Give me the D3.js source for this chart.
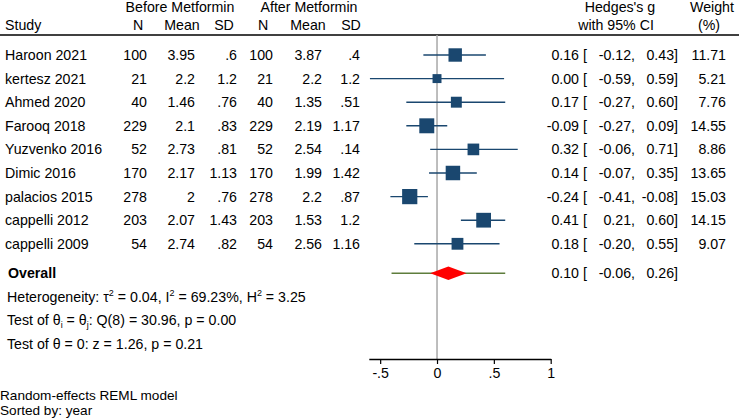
<!DOCTYPE html>
<html>
<head>
<meta charset="utf-8">
<script src="https://cdn.jsdelivr.net/npm/d3@7"></script>
<style>
  body { margin: 0; background: #fff; }
  text { font-family: "Liberation Sans", Arial, sans-serif; font-size: 14.2px; fill: #000; }
  text.nota { font-size: 13.6px; }
</style>
</head>
<body>
<div class="forest"></div>
<script>
// dati
var studi = ["Haroon 2021", "kertesz 2021", "Ahmed 2020", "Farooq 2018", "Yuzvenko 2016",
             "Dimic 2016", "palacios 2015", "cappelli 2012", "cappelli 2009"];
var nPrima = [100, 21, 40, 229, 52, 170, 278, 203, 54];
var mediaPrima = [3.95, 2.2, 1.46, 2.1, 2.73, 2.17, 2, 2.07, 2.74];
var sdPrima = [0.6, 1.2, 0.76, 0.83, 0.81, 1.13, 0.76, 1.43, 0.82];
var nDopo = [100, 21, 40, 229, 52, 170, 278, 203, 54];
var mediaDopo = [3.87, 2.2, 1.35, 2.19, 2.54, 1.99, 2.2, 1.53, 2.56];
var sdDopo = [0.4, 1.2, 0.51, 1.17, 0.14, 1.42, 0.87, 1.2, 1.16];
var effetto = [0.16, 0.00, 0.17, -0.09, 0.32, 0.14, -0.24, 0.41, 0.18];
var ciInf = [-0.12, -0.59, -0.27, -0.27, -0.06, -0.07, -0.41, 0.21, -0.20];
var ciSup = [0.43, 0.59, 0.60, 0.09, 0.71, 0.35, -0.08, 0.60, 0.55];
var pesi = [11.71, 5.21, 7.76, 14.55, 8.86, 13.65, 15.03, 14.15, 9.07];
var complessivo = [0.10, -0.06, 0.26];      // effetto, inf, sup
var predizione = [-0.40, 0.60];             // intervallo di predizione
var tickAsse = [-0.5, 0, 0.5, 1];

var w = 740, h = 420;

var svg = d3.select(".forest")
  .append("svg")
  .attr("width", w)
  .attr("height", h);

// scale
var x = d3.scaleLinear().domain([-0.6, 1]).range([368.8, 550.7]);
var riga = d3.scaleLinear().domain([0, 1]).range([55, 78.6]);
var lato = d3.scaleSqrt().domain([0, 15.03]).range([0, 15.2]);

var f2 = function (v) { return d3.format(".2f")(v).replace("\u2212", "-"); };
function stataNum(v) {
  return String(v).replace(/^0\./, ".").replace(/^-0\./, "-.");
}

// intestazioni
var intest = [
  { t: "Before Metformin", x: 180, y: 12 },
  { t: "After Metformin", x: 309, y: 12 },
  { t: "N", x: 138, y: 30 },
  { t: "Mean", x: 182, y: 30 },
  { t: "SD", x: 224, y: 30 },
  { t: "N", x: 263, y: 30 },
  { t: "Mean", x: 308, y: 30 },
  { t: "SD", x: 351, y: 30 },
  { t: "Hedges's g", x: 620, y: 12 },
  { t: "with 95% CI", x: 616, y: 30 },
  { t: "Weight", x: 712, y: 12 },
  { t: "(%)", x: 709, y: 30 }
];
svg.selectAll(".intest")
  .data(intest)
  .enter()
  .append("text")
  .attr("class", "intest")
  .attr("x", function (d) { return d.x; })
  .attr("y", function (d) { return d.y; })
  .attr("text-anchor", "middle")
  .text(function (d) { return d.t; });

svg.append("text").attr("x", 5).attr("y", 30).text("Study");

svg.append("line")
  .attr("x1", 0).attr("x2", 739)
  .attr("y1", 35).attr("y2", 35)
  .attr("stroke", "#000").attr("stroke-width", 1.3);

// linea dello zero
svg.append("line")
  .attr("x1", x(0)).attr("x2", x(0))
  .attr("y1", 35).attr("y2", 359)
  .attr("stroke", "#a8a8a8").attr("stroke-width", 1.5);

// colonne di testo
var colonne = [
  { v: nPrima, x: 147 },
  { v: mediaPrima, x: 195 },
  { v: sdPrima, x: 237 },
  { v: nDopo, x: 273 },
  { v: mediaDopo, x: 322 },
  { v: sdDopo, x: 360 }
];

var righe = studi.map(function (s, i) { return i; });

var gRiga = svg.selectAll(".studio")
  .data(righe)
  .enter()
  .append("g")
  .attr("class", "studio")
  .attr("transform", function (i) { return "translate(0," + riga(i) + ")"; });

gRiga.append("text")
  .attr("x", 5).attr("dy", "0.35em")
  .text(function (i) { return studi[i]; });

colonne.forEach(function (c) {
  gRiga.append("text")
    .attr("x", c.x).attr("dy", "0.35em")
    .attr("text-anchor", "end")
    .text(function (i) { return stataNum(c.v[i]); });
});

// intervalli di confidenza
gRiga.append("line")
  .attr("x1", function (i) { return x(ciInf[i]); })
  .attr("x2", function (i) { return x(ciSup[i]); })
  .attr("stroke", "#1a476f").attr("stroke-width", 1.4);

// quadrati pesati
gRiga.append("rect")
  .attr("x", function (i) { return x(effetto[i]) - lato(pesi[i]) / 2; })
  .attr("y", function (i) { return -lato(pesi[i]) / 2; })
  .attr("width", function (i) { return lato(pesi[i]); })
  .attr("height", function (i) { return lato(pesi[i]); })
  .attr("fill", "#1a476f");

// testo effetto e IC
function scriviIC(g, eff, inf, sup) {
  g.append("text").attr("x", 579).attr("dy", "0.35em").attr("text-anchor", "end").text(f2(eff));
  g.append("text").attr("x", 583).attr("dy", "0.35em").text("[");
  g.append("text").attr("x", 635).attr("dy", "0.35em").attr("text-anchor", "end").text(f2(inf) + ",");
  g.append("text").attr("x", 678).attr("dy", "0.35em").attr("text-anchor", "end").text(f2(sup) + "]");
}
gRiga.each(function (i) {
  scriviIC(d3.select(this), effetto[i], ciInf[i], ciSup[i]);
});
gRiga.append("text")
  .attr("x", 726).attr("dy", "0.35em")
  .attr("text-anchor", "end")
  .text(function (i) { return f2(pesi[i]); });

// complessivo
var gTot = svg.append("g").attr("transform", "translate(0," + riga(9.25) + ")");
gTot.append("text")
  .attr("x", 8).attr("dy", "0.35em")
  .attr("font-weight", "bold")
  .text("Overall");
gTot.append("line")
  .attr("x1", x(predizione[0])).attr("x2", x(predizione[1]))
  .attr("stroke", "#5e7d3c").attr("stroke-width", 1.4);
gTot.append("path")
  .attr("d", "M" + x(complessivo[1]) + ",0 L" + x(complessivo[0]) + ",-6.8 L" +
    x(complessivo[2]) + ",0 L" + x(complessivo[0]) + ",6.8 Z")
  .attr("fill", "#ff0000");
scriviIC(gTot, complessivo[0], complessivo[1], complessivo[2]);

// statistiche
var het = svg.append("text").attr("x", 7).attr("y", riga(10.25)).attr("dy", "0.35em");
het.append("tspan").text("Heterogeneity: \u03c4");
het.append("tspan").attr("dy", -6).attr("font-size", "9px").text("2");
het.append("tspan").attr("dy", 6).text(" = 0.04, I");
het.append("tspan").attr("dy", -6).attr("font-size", "9px").text("2");
het.append("tspan").attr("dy", 6).text(" = 69.23%, H");
het.append("tspan").attr("dy", -6).attr("font-size", "9px").text("2");
het.append("tspan").attr("dy", 6).text(" = 3.25");

var q = svg.append("text").attr("x", 7).attr("y", riga(11.25)).attr("dy", "0.35em");
q.append("tspan").text("Test of \u03b8");
q.append("tspan").attr("dy", 3).attr("font-size", "9px").text("i");
q.append("tspan").attr("dy", -3).text(" = \u03b8");
q.append("tspan").attr("dy", 3).attr("font-size", "9px").text("j");
q.append("tspan").attr("dy", -3).text(": Q(8) = 30.96, p = 0.00");

svg.append("text").attr("x", 7).attr("y", riga(12.25)).attr("dy", "0.35em")
  .text("Test of \u03b8 = 0: z = 1.26, p = 0.21");

// asse x
var asse = d3.axisBottom(x)
  .tickValues(tickAsse)
  .tickSize(5)
  .tickSizeOuter(0)
  .tickFormat(function (d) { return stataNum(d); });
var gAsse = svg.append("g")
  .attr("transform", "translate(0,359)")
  .call(asse);
gAsse.select(".domain").attr("stroke", "#000").attr("stroke-width", 1.3);
gAsse.selectAll(".tick line").attr("stroke", "#000").attr("stroke-width", 1.2);
gAsse.selectAll(".tick text")
  .attr("font-size", "14.2px")
  .attr("font-family", "Liberation Sans, Arial, sans-serif")
  .attr("fill", "#000")
  .attr("y", 9);

// note
svg.append("text").attr("class", "nota").attr("x", 0).attr("y", 400).text("Random-effects REML model");
svg.append("text").attr("class", "nota").attr("x", 0).attr("y", 414.5).text("Sorted by: year");
</script>
</body>
</html>
